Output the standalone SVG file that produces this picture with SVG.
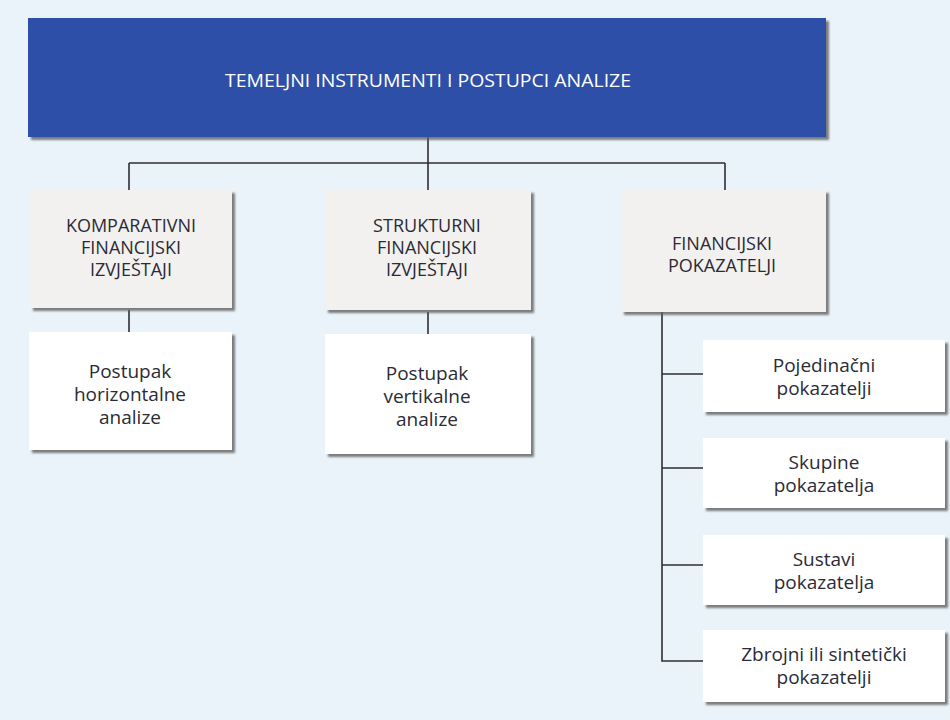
<svg xmlns="http://www.w3.org/2000/svg" width="950" height="720" viewBox="0 0 950 720">
  <defs>
    <filter id="sh" x="-5%" y="-5%" width="112%" height="120%">
      <feDropShadow dx="3" dy="3" stdDeviation="1.3" flood-color="#5e5e5e" flood-opacity="0.8"/>
    </filter>
    <style>
      .bg { fill: #eaf3f9; }
      .head { fill: #2d4fa8; filter: url(#sh); }
      .gray { fill: #f2f1ef; filter: url(#sh); }
      .white { fill: #ffffff; filter: url(#sh); }
      .conn { stroke: #2e2e33; stroke-width: 1.6; fill: none; }
      text { font-family: "Open Sans", "Liberation Sans", sans-serif; fill: #2b2b36; text-anchor: middle; }
      .ht { fill: #ffffff; font-size: 19px; }
      .cap { font-size: 18px; }
      .lc { font-size: 19px; }
    </style>
  </defs>
  <rect class="bg" x="0" y="0" width="950" height="720"/>

  <g id="connectors">
    <path class="conn" d="M428 137 V190"/>
    <path class="conn" d="M129 163 H725"/>
    <path class="conn" d="M129 163 V190"/>
    <path class="conn" d="M725 163 V190"/>
    <path class="conn" d="M129 310 V332"/>
    <path class="conn" d="M428 312 V334"/>
    <path class="conn" d="M662 312 V661 H703"/>
    <path class="conn" d="M662 374 H703"/>
    <path class="conn" d="M662 468 H703"/>
    <path class="conn" d="M662 565 H703"/>
  </g>

  <g id="root">
    <rect class="head" x="28" y="18" width="798" height="119"/>
    <text class="ht" x="428" y="87" textLength="406" lengthAdjust="spacingAndGlyphs">TEMELJNI INSTRUMENTI I POSTUPCI ANALIZE</text>
  </g>

  <g id="komparativni">
    <rect class="gray" x="30" y="190" width="202" height="118"/>
    <text class="cap" x="131" y="232">KOMPARATIVNI</text>
    <text class="cap" x="131" y="254">FINANCIJSKI</text>
    <text class="cap" x="131" y="276">IZVJEŠTAJI</text>
  </g>

  <g id="strukturni">
    <rect class="gray" x="325" y="190" width="206" height="120"/>
    <text class="cap" x="427" y="232">STRUKTURNI</text>
    <text class="cap" x="427" y="254">FINANCIJSKI</text>
    <text class="cap" x="427" y="276">IZVJEŠTAJI</text>
  </g>

  <g id="pokazatelji">
    <rect class="gray" x="621" y="190" width="205" height="122"/>
    <text class="cap" x="722" y="250">FINANCIJSKI</text>
    <text class="cap" x="722" y="272">POKAZATELJI</text>
  </g>

  <g id="horizontalna">
    <rect class="white" x="29" y="332" width="203" height="118"/>
    <text class="lc" x="130" y="378">Postupak</text>
    <text class="lc" x="130" y="401">horizontalne</text>
    <text class="lc" x="130" y="424">analize</text>
  </g>

  <g id="vertikalna">
    <rect class="white" x="325" y="334" width="206" height="120"/>
    <text class="lc" x="427" y="380">Postupak</text>
    <text class="lc" x="427" y="403">vertikalne</text>
    <text class="lc" x="427" y="426">analize</text>
  </g>

  <g id="pojedinacni">
    <rect class="white" x="703" y="340" width="242" height="72"/>
    <text class="lc" x="824" y="372">Pojedinačni</text>
    <text class="lc" x="824" y="395">pokazatelji</text>
  </g>

  <g id="skupine">
    <rect class="white" x="703" y="438" width="242" height="70"/>
    <text class="lc" x="824" y="469">Skupine</text>
    <text class="lc" x="824" y="492">pokazatelja</text>
  </g>

  <g id="sustavi">
    <rect class="white" x="703" y="535" width="242" height="70"/>
    <text class="lc" x="824" y="566">Sustavi</text>
    <text class="lc" x="824" y="589">pokazatelja</text>
  </g>

  <g id="zbrojni">
    <rect class="white" x="703" y="630" width="242" height="72"/>
    <text class="lc" x="824" y="661">Zbrojni ili sintetički</text>
    <text class="lc" x="824" y="684">pokazatelji</text>
  </g>
</svg>
